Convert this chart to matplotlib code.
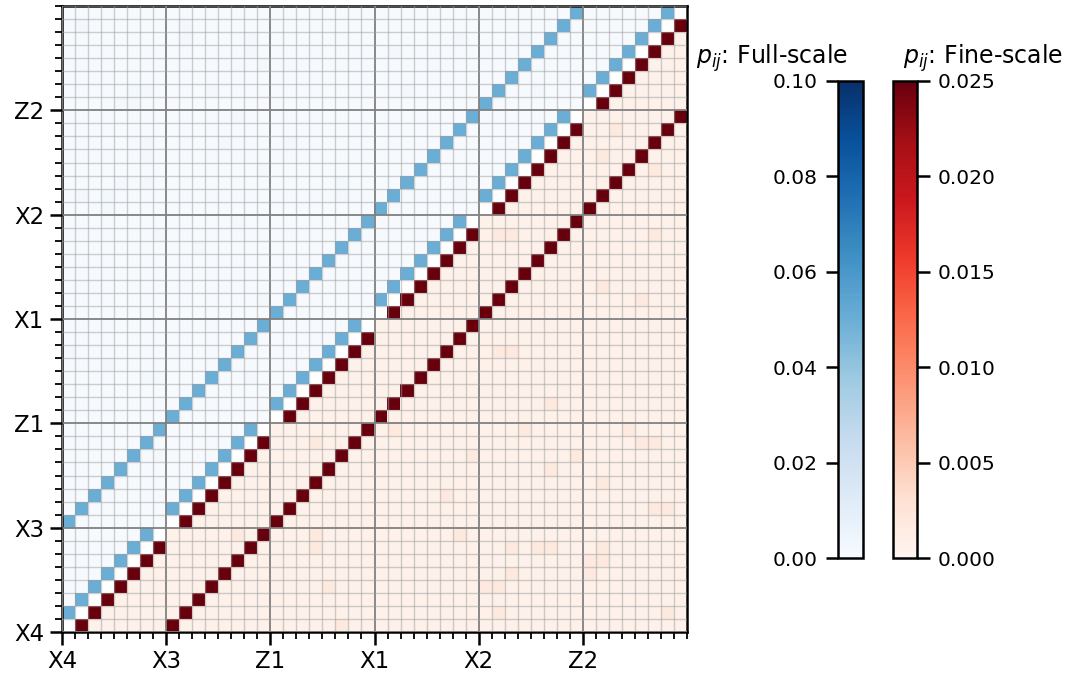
import numpy as np
import matplotlib.pyplot as plt
from matplotlib.colors import Normalize

# 6 chains x 8 sites, ordered bottom-to-top / left-to-right
groups = ["X4", "X3", "Z1", "X1", "X2", "Z2"]
sites_per_group = 8
n = len(groups) * sites_per_group

# coupling strength between neighbouring sites
p_chain = 0.05      # site i <-> i+1 inside the same chain
p_rung = 0.05       # site i <-> i+8 (same position, next chain)
p_background = 0.0006

# slightly larger residual values (col, row)
residual_cells = [
    (25, 15), (29, 10), (31, 13), (35, 15), (37, 12), (39, 13), (43, 15),
    (44, 14), (45, 14), (41, 11), (45, 9), (46, 9), (34, 6), (34, 4),
    (36, 6), (37, 6), (40, 5), (41, 5), (41, 6), (32, 3), (33, 3), (33, 1),
    (46, 1), (40, 4), (30, 7), (42, 38), (41, 36), (45, 35), (41, 26),
    (44, 25), (45, 30), (33, 30), (34, 30), (37, 17), (33, 21), (34, 21),
    (13, 7), (20, 3), (21, 0), (19, 6), (19, 7), (19, 14),
]
residual_value = 0.0018

P = np.full((n, n), p_background)
for i in range(n - 1):
    if (i + 1) % sites_per_group != 0:
        P[i, i + 1] = P[i + 1, i] = p_chain
for i in range(n - sites_per_group):
    P[i, i + sites_per_group] = P[i + sites_per_group, i] = p_rung
for c, r in residual_cells:
    P[r, c] = P[c, r] = residual_value
np.fill_diagonal(P, np.nan)

rows, cols = np.indices((n, n))
upper = np.ma.masked_where(rows <= cols, P)   # above diagonal -> full scale
lower = np.ma.masked_where(rows >= cols, P)   # below diagonal -> fine scale

fig = plt.figure(figsize=(10.67, 6.79), dpi=100)
ax = fig.add_axes([62 / 1067, 1 - 632 / 679, 625 / 1067, 626 / 679])

norm_full = Normalize(0, 0.1)
norm_fine = Normalize(0, 0.025)
im_full = ax.imshow(upper, cmap="Blues", norm=norm_full, origin="lower",
                    extent=(0, n, 0, n), interpolation="nearest", aspect="auto")
im_fine = ax.imshow(lower, cmap="Reds", norm=norm_fine, origin="lower",
                    extent=(0, n, 0, n), interpolation="nearest", aspect="auto")

major = np.arange(0, n, sites_per_group)
ax.set_xticks(major)
ax.set_yticks(major)
ax.set_xticklabels(groups)
ax.set_yticklabels(groups)
ax.set_xticks(np.arange(n + 1), minor=True)
ax.set_yticks(np.arange(n + 1), minor=True)
ax.set_xlim(0, n)
ax.set_ylim(0, n)
ax.grid(which="minor", color="#a0a0a0", alpha=0.5, linewidth=1.0)
ax.grid(which="major", color="#808080", linewidth=1.3)
ax.set_axisbelow(False)
ax.tick_params(which="major", length=9, width=1.8, labelsize=16.5, pad=4)
ax.tick_params(which="minor", length=5, width=1.3)
for s in ax.spines.values():
    s.set_linewidth(1.8)

cb_bottom = 1 - 558 / 679
cb_height = (558 - 81) / 679
cax1 = fig.add_axes([838 / 1067, cb_bottom, 25 / 1067, cb_height])
cax2 = fig.add_axes([893 / 1067, cb_bottom, 24 / 1067, cb_height])

cb1 = fig.colorbar(im_full, cax=cax1, ticks=[0, 0.02, 0.04, 0.06, 0.08, 0.10])
cb1.ax.yaxis.set_ticks_position("left")
cb1.ax.set_yticklabels(["0.00", "0.02", "0.04", "0.06", "0.08", "0.10"])
cb2 = fig.colorbar(im_fine, cax=cax2, ticks=[0, 0.005, 0.01, 0.015, 0.02, 0.025])
cb2.ax.set_yticklabels(["0.000", "0.005", "0.010", "0.015", "0.020", "0.025"])
for cb in (cb1, cb2):
    cb.outline.set_linewidth(1.8)
    cb.ax.tick_params(length=9, width=1.8, labelsize=14.5, pad=6)

fig.text(848 / 1067, 1 - 64 / 679, "$p_{ij}$: Full-scale", ha="right",
         va="baseline", fontsize=17)
fig.text(903 / 1067, 1 - 64 / 679, "$p_{ij}$: Fine-scale", ha="left",
         va="baseline", fontsize=17)

fig.savefig("out.png", dpi=100)
